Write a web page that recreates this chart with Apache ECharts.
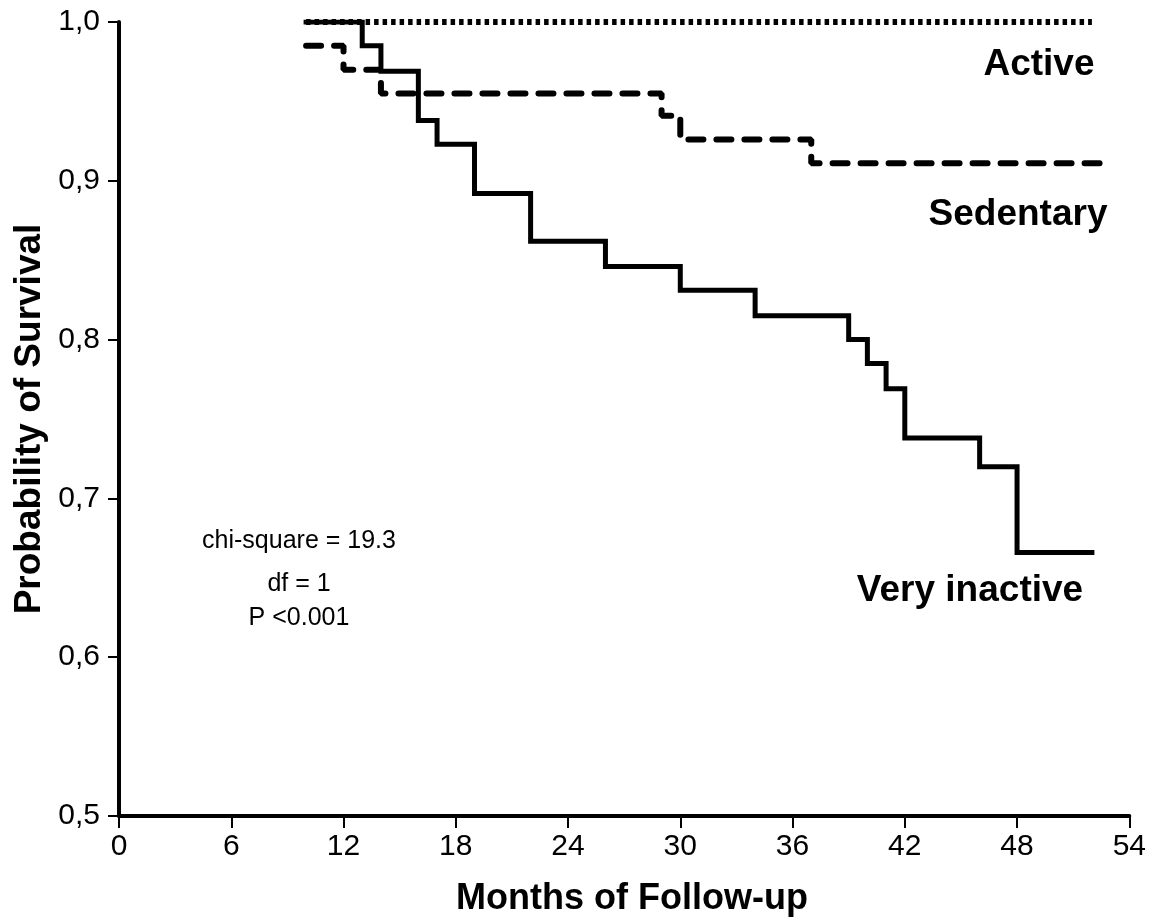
<!DOCTYPE html>
<html>
<head>
<meta charset="utf-8">
<script src="https://cdn.jsdelivr.net/npm/echarts@6/dist/echarts.min.js"></script>
<style>
  html, body { margin: 0; padding: 0; background: #fff; }
  #chart { width: 1149px; height: 920px; }
</style>
</head>
<body>
<div id="chart"></div>
<script>
// Kaplan-Meier steps (month, survival after that month)
const inactiveMonths = [10, 13, 14, 16, 17, 19, 22, 26, 30, 34, 39, 40, 41, 42, 46, 48, 52]
const inactiveSurv = [1.0, 0.985, 0.969, 0.938, 0.923, 0.892, 0.862, 0.846, 0.831, 0.815, 0.800, 0.785, 0.769, 0.738, 0.720, 0.666, 0.666]

const sedentaryMonths = [10, 12, 14, 29, 30, 37, 53]
const sedentarySurv = [0.985, 0.970, 0.955, 0.941, 0.926, 0.911, 0.911]

const activeMonths = [10, 52]
const activeSurv = [1.0, 1.0]

const xTicks = [0, 6, 12, 18, 24, 30, 36, 42, 48, 54]
const yTicks = [0.5, 0.6, 0.7, 0.8, 0.9, 1.0]

const statsLines = ['chi-square = 19.3', 'df = 1', 'P <0.001']

function pairs (xs, ys) {
  return xs.map((x, i) => [x, ys[i]])
}

const FONT = 'Liberation Sans, Arial, sans-serif'

const myChart = echarts.init(document.getElementById('chart'), null, { renderer: 'canvas' })

function label (text, x, y, size, weight) {
  return {
    type: 'text',
    x: x,
    y: y,
    style: {
      text: text,
      fill: '#000',
      font: weight + ' ' + size + 'px ' + FONT,
      textAlign: 'center',
      textVerticalAlign: 'middle'
    }
  }
}

const axisStyle = { show: true, lineStyle: { color: '#000', width: 4 } }

myChart.setOption({
  animation: false,
  backgroundColor: '#fff',
  grid: { left: 119, right: 13, top: 22, bottom: 104, containLabel: false },
  xAxis: {
    type: 'value',
    min: xTicks[0],
    max: xTicks[xTicks.length - 1],
    interval: 6,
    axisLine: axisStyle,
    axisTick: { show: true, length: 12, lineStyle: { color: '#000', width: 2 } },
    axisLabel: { color: '#000', fontSize: 30, fontFamily: FONT, margin: 16 },
    splitLine: { show: false }
  },
  yAxis: {
    type: 'value',
    min: yTicks[0],
    max: yTicks[yTicks.length - 1],
    interval: 0.1,
    axisLine: axisStyle,
    axisTick: { show: true, length: 11, lineStyle: { color: '#000', width: 2 } },
    axisLabel: {
      color: '#000',
      fontSize: 30,
      fontFamily: FONT,
      margin: 19,
      formatter: v => v.toFixed(1).replace('.', ',')
    },
    splitLine: { show: false }
  },
  series: [
    {
      name: 'Very inactive',
      type: 'line',
      step: 'end',
      symbol: 'none',
      data: pairs(inactiveMonths, inactiveSurv),
      lineStyle: { color: '#000', width: 5, cap: 'square', join: 'miter' }
    },
    {
      name: 'Sedentary',
      type: 'line',
      step: 'end',
      symbol: 'none',
      data: pairs(sedentaryMonths, sedentarySurv),
      lineStyle: { color: '#000', width: 6, type: [15, 13], cap: 'round' }
    },
    {
      name: 'Active',
      type: 'line',
      step: 'end',
      symbol: 'none',
      data: pairs(activeMonths, activeSurv),
      lineStyle: { color: '#000', width: 6, type: [4.5, 4], cap: 'butt' }
    }
  ],
  graphic: [
    label('Active', 1039, 65, 37, 'bold'),
    label('Sedentary', 1018, 215, 37, 'bold'),
    label('Very inactive', 970, 591, 37, 'bold'),
    label(statsLines[0], 299, 541, 25, 'normal'),
    label(statsLines[1], 299, 584, 25, 'normal'),
    label(statsLines[2], 299, 618, 25, 'normal'),
    label('Months of Follow-up', 632, 899, 36, 'bold'),
    Object.assign(label('Probability of Survival', 30, 419, 37, 'bold'), { rotation: Math.PI / 2 })
  ]
})
</script>
</body>
</html>
